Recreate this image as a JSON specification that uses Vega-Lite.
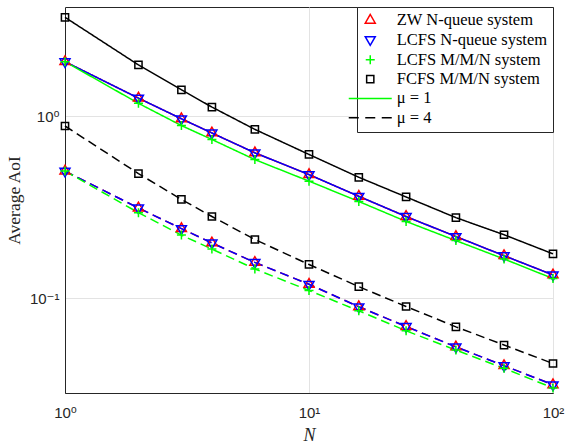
{
  "$schema": "https://vega.github.io/schema/vega-lite/v6.json",
  "width": 488,
  "height": 386,
  "autosize": {"type": "none"},
  "padding": {"left": 65, "top": 7, "right": 13, "bottom": 51},
  "background": "white",
  "config": {
    "font": "Liberation Serif",
    "view": {"stroke": "#262626", "strokeWidth": 1},
    "axis": {
      "labelFont": "Liberation Sans, DejaVu Sans",
      "labelFontSize": 15,
      "labelColor": "#262626",
      "titleFont": "Liberation Serif",
      "titleFontWeight": "normal",
      "titleColor": "#262626",
      "domainColor": "#262626",
      "gridColor": "#e3e3e3",
      "gridWidth": 1,
      "ticks": false,
      "tickSize": 0
    },
    "legend": {
      "orient": "top-right",
      "offset": 0,
      "padding": 5,
      "strokeColor": "#262626",
      "fillColor": "white",
      "labelFont": "Liberation Serif",
      "labelFontSize": 16.5,
      "labelColor": "black",
      "symbolSize": 100,
      "symbolStrokeWidth": 1.5,
      "symbolOffset": 0,
      "labelOffset": 18.25,
      "rowPadding": 2.3,
      "labelLimit": 300
    }
  },
  "data": {
    "values": [
      {"system": "ZW N-queue system", "mu": "μ = 1", "N": 1, "aoi": 2.0},
      {"system": "ZW N-queue system", "mu": "μ = 1", "N": 2, "aoi": 1.26},
      {"system": "ZW N-queue system", "mu": "μ = 1", "N": 3, "aoi": 0.97},
      {"system": "ZW N-queue system", "mu": "μ = 1", "N": 4, "aoi": 0.81},
      {"system": "ZW N-queue system", "mu": "μ = 1", "N": 6, "aoi": 0.63},
      {"system": "ZW N-queue system", "mu": "μ = 1", "N": 10, "aoi": 0.478},
      {"system": "ZW N-queue system", "mu": "μ = 1", "N": 16, "aoi": 0.363},
      {"system": "ZW N-queue system", "mu": "μ = 1", "N": 25, "aoi": 0.281},
      {"system": "ZW N-queue system", "mu": "μ = 1", "N": 40, "aoi": 0.218},
      {"system": "ZW N-queue system", "mu": "μ = 1", "N": 63, "aoi": 0.171},
      {"system": "ZW N-queue system", "mu": "μ = 1", "N": 100, "aoi": 0.134},
      {"system": "ZW N-queue system", "mu": "μ = 4", "N": 1, "aoi": 0.5},
      {"system": "ZW N-queue system", "mu": "μ = 4", "N": 2, "aoi": 0.313},
      {"system": "ZW N-queue system", "mu": "μ = 4", "N": 3, "aoi": 0.241},
      {"system": "ZW N-queue system", "mu": "μ = 4", "N": 4, "aoi": 0.201},
      {"system": "ZW N-queue system", "mu": "μ = 4", "N": 6, "aoi": 0.157},
      {"system": "ZW N-queue system", "mu": "μ = 4", "N": 10, "aoi": 0.119},
      {"system": "ZW N-queue system", "mu": "μ = 4", "N": 16, "aoi": 0.0895},
      {"system": "ZW N-queue system", "mu": "μ = 4", "N": 25, "aoi": 0.0697},
      {"system": "ZW N-queue system", "mu": "μ = 4", "N": 40, "aoi": 0.0538},
      {"system": "ZW N-queue system", "mu": "μ = 4", "N": 63, "aoi": 0.0424},
      {"system": "ZW N-queue system", "mu": "μ = 4", "N": 100, "aoi": 0.0333},
      {"system": "LCFS N-queue system", "mu": "μ = 1", "N": 1, "aoi": 2.0},
      {"system": "LCFS N-queue system", "mu": "μ = 1", "N": 2, "aoi": 1.26},
      {"system": "LCFS N-queue system", "mu": "μ = 1", "N": 3, "aoi": 0.97},
      {"system": "LCFS N-queue system", "mu": "μ = 1", "N": 4, "aoi": 0.81},
      {"system": "LCFS N-queue system", "mu": "μ = 1", "N": 6, "aoi": 0.63},
      {"system": "LCFS N-queue system", "mu": "μ = 1", "N": 10, "aoi": 0.478},
      {"system": "LCFS N-queue system", "mu": "μ = 1", "N": 16, "aoi": 0.363},
      {"system": "LCFS N-queue system", "mu": "μ = 1", "N": 25, "aoi": 0.281},
      {"system": "LCFS N-queue system", "mu": "μ = 1", "N": 40, "aoi": 0.218},
      {"system": "LCFS N-queue system", "mu": "μ = 1", "N": 63, "aoi": 0.171},
      {"system": "LCFS N-queue system", "mu": "μ = 1", "N": 100, "aoi": 0.134},
      {"system": "LCFS N-queue system", "mu": "μ = 4", "N": 1, "aoi": 0.5},
      {"system": "LCFS N-queue system", "mu": "μ = 4", "N": 2, "aoi": 0.313},
      {"system": "LCFS N-queue system", "mu": "μ = 4", "N": 3, "aoi": 0.241},
      {"system": "LCFS N-queue system", "mu": "μ = 4", "N": 4, "aoi": 0.201},
      {"system": "LCFS N-queue system", "mu": "μ = 4", "N": 6, "aoi": 0.157},
      {"system": "LCFS N-queue system", "mu": "μ = 4", "N": 10, "aoi": 0.119},
      {"system": "LCFS N-queue system", "mu": "μ = 4", "N": 16, "aoi": 0.0895},
      {"system": "LCFS N-queue system", "mu": "μ = 4", "N": 25, "aoi": 0.0697},
      {"system": "LCFS N-queue system", "mu": "μ = 4", "N": 40, "aoi": 0.0538},
      {"system": "LCFS N-queue system", "mu": "μ = 4", "N": 63, "aoi": 0.0424},
      {"system": "LCFS N-queue system", "mu": "μ = 4", "N": 100, "aoi": 0.0333},
      {"system": "LCFS M/M/N system", "mu": "μ = 1", "N": 1, "aoi": 2.0},
      {"system": "LCFS M/M/N system", "mu": "μ = 1", "N": 2, "aoi": 1.18},
      {"system": "LCFS M/M/N system", "mu": "μ = 1", "N": 3, "aoi": 0.89},
      {"system": "LCFS M/M/N system", "mu": "μ = 1", "N": 4, "aoi": 0.746},
      {"system": "LCFS M/M/N system", "mu": "μ = 1", "N": 6, "aoi": 0.578},
      {"system": "LCFS M/M/N system", "mu": "μ = 1", "N": 10, "aoi": 0.44},
      {"system": "LCFS M/M/N system", "mu": "μ = 1", "N": 16, "aoi": 0.34},
      {"system": "LCFS M/M/N system", "mu": "μ = 1", "N": 25, "aoi": 0.264},
      {"system": "LCFS M/M/N system", "mu": "μ = 1", "N": 40, "aoi": 0.207},
      {"system": "LCFS M/M/N system", "mu": "μ = 1", "N": 63, "aoi": 0.164},
      {"system": "LCFS M/M/N system", "mu": "μ = 1", "N": 100, "aoi": 0.128},
      {"system": "LCFS M/M/N system", "mu": "μ = 4", "N": 1, "aoi": 0.5},
      {"system": "LCFS M/M/N system", "mu": "μ = 4", "N": 2, "aoi": 0.295},
      {"system": "LCFS M/M/N system", "mu": "μ = 4", "N": 3, "aoi": 0.222},
      {"system": "LCFS M/M/N system", "mu": "μ = 4", "N": 4, "aoi": 0.186},
      {"system": "LCFS M/M/N system", "mu": "μ = 4", "N": 6, "aoi": 0.1445},
      {"system": "LCFS M/M/N system", "mu": "μ = 4", "N": 10, "aoi": 0.11},
      {"system": "LCFS M/M/N system", "mu": "μ = 4", "N": 16, "aoi": 0.085},
      {"system": "LCFS M/M/N system", "mu": "μ = 4", "N": 25, "aoi": 0.066},
      {"system": "LCFS M/M/N system", "mu": "μ = 4", "N": 40, "aoi": 0.0517},
      {"system": "LCFS M/M/N system", "mu": "μ = 4", "N": 63, "aoi": 0.041},
      {"system": "LCFS M/M/N system", "mu": "μ = 4", "N": 100, "aoi": 0.032},
      {"system": "FCFS M/M/N system", "mu": "μ = 1", "N": 1, "aoi": 3.51},
      {"system": "FCFS M/M/N system", "mu": "μ = 1", "N": 2, "aoi": 1.92},
      {"system": "FCFS M/M/N system", "mu": "μ = 1", "N": 3, "aoi": 1.4},
      {"system": "FCFS M/M/N system", "mu": "μ = 1", "N": 4, "aoi": 1.125},
      {"system": "FCFS M/M/N system", "mu": "μ = 1", "N": 6, "aoi": 0.848},
      {"system": "FCFS M/M/N system", "mu": "μ = 1", "N": 10, "aoi": 0.617},
      {"system": "FCFS M/M/N system", "mu": "μ = 1", "N": 16, "aoi": 0.462},
      {"system": "FCFS M/M/N system", "mu": "μ = 1", "N": 25, "aoi": 0.36},
      {"system": "FCFS M/M/N system", "mu": "μ = 1", "N": 40, "aoi": 0.277},
      {"system": "FCFS M/M/N system", "mu": "μ = 1", "N": 63, "aoi": 0.223},
      {"system": "FCFS M/M/N system", "mu": "μ = 1", "N": 100, "aoi": 0.175},
      {"system": "FCFS M/M/N system", "mu": "μ = 4", "N": 1, "aoi": 0.885},
      {"system": "FCFS M/M/N system", "mu": "μ = 4", "N": 2, "aoi": 0.484},
      {"system": "FCFS M/M/N system", "mu": "μ = 4", "N": 3, "aoi": 0.349},
      {"system": "FCFS M/M/N system", "mu": "μ = 4", "N": 4, "aoi": 0.281},
      {"system": "FCFS M/M/N system", "mu": "μ = 4", "N": 6, "aoi": 0.21},
      {"system": "FCFS M/M/N system", "mu": "μ = 4", "N": 10, "aoi": 0.153},
      {"system": "FCFS M/M/N system", "mu": "μ = 4", "N": 16, "aoi": 0.1155},
      {"system": "FCFS M/M/N system", "mu": "μ = 4", "N": 25, "aoi": 0.0898},
      {"system": "FCFS M/M/N system", "mu": "μ = 4", "N": 40, "aoi": 0.0694},
      {"system": "FCFS M/M/N system", "mu": "μ = 4", "N": 63, "aoi": 0.0551},
      {"system": "FCFS M/M/N system", "mu": "μ = 4", "N": 100, "aoi": 0.0436}
    ]
  },
  "encoding": {
    "x": {
      "field": "N",
      "type": "quantitative",
      "scale": {"type": "log", "domain": [1, 100], "nice": false},
      "axis": {
        "title": "N",
        "titleFontStyle": "italic",
        "titleFontSize": 18,
        "titlePadding": 6,
        "values": [1, 10, 100],
        "labelExpr": "datum.value < 5 ? '10⁰' : datum.value < 50 ? '10¹' : '10²'",
        "labelPadding": 12,
        "labelFlush": false,
        "grid": true
      }
    },
    "y": {
      "field": "aoi",
      "type": "quantitative",
      "scale": {"type": "log", "domain": [0.03, 4], "nice": false, "zero": false},
      "axis": {
        "title": "Average AoI",
        "titleFontSize": 17.5,
        "titlePadding": 6,
        "values": [0.1, 1],
        "labelExpr": "datum.value < 0.5 ? '10⁻¹' : '10⁰'",
        "labelPadding": 6,
        "grid": true
      }
    }
  },
  "layer": [
    {
      "mark": {"type": "line", "strokeWidth": 1.5},
      "encoding": {
        "color": {
          "field": "system",
          "type": "nominal",
          "title": null,
          "scale": {
            "domain": ["ZW N-queue system", "LCFS N-queue system", "LCFS M/M/N system", "FCFS M/M/N system", "μ = 1", "μ = 4"],
            "range": ["#ff0000", "#0000ff", "#00ff00", "#000000", "#00ff00", "#000000"]
          }
        },
        "strokeDash": {
          "field": "mu",
          "type": "nominal",
          "scale": {"domain": ["μ = 1", "μ = 4"], "range": [[1, 0], [9, 5]]},
          "legend": null
        }
      }
    },
    {
      "mark": {"type": "point", "filled": false, "size": 100, "strokeWidth": 1.5, "opacity": 1},
      "encoding": {
        "color": {
          "field": "system",
          "type": "nominal",
          "title": null,
          "scale": {
            "domain": ["ZW N-queue system", "LCFS N-queue system", "LCFS M/M/N system", "FCFS M/M/N system", "μ = 1", "μ = 4"],
            "range": ["#ff0000", "#0000ff", "#00ff00", "#000000", "#00ff00", "#000000"]
          },
          "legend": {
            "labelFont": "Liberation Serif",
            "labelFontSize": 16.5,
            "labelColor": "black",
            "encode": {"labels": {"update": {"font": {"value": "Liberation Serif"}}}}
          }
        },
        "shape": {
          "field": "system",
          "type": "nominal",
          "title": null,
          "scale": {
            "domain": ["ZW N-queue system", "LCFS N-queue system", "LCFS M/M/N system", "FCFS M/M/N system", "μ = 1", "μ = 4"],
            "range": [
              "M-4.3,0M4.3,0M0,-1.155L-1,0.577L1,0.577Z",
              "M-4.3,0M4.3,0M0,1.155L-1,-0.577L1,-0.577Z",
              "M-4.3,0M4.3,0M-0.9,0L0.9,0M0,-0.9L0,0.9",
              "M-4.3,0M4.3,0M-0.72,-0.72L0.72,-0.72L0.72,0.72L-0.72,0.72Z",
              "M-4.3,0L4.3,0",
              "M-4.3,0L-2.3,0M-1,0L1,0M2.3,0L4.3,0"
            ]
          },
          "legend": {
            "labelFont": "Liberation Serif",
            "labelFontSize": 16.5,
            "labelColor": "black",
            "encode": {"labels": {"update": {"font": {"value": "Liberation Serif"}}}}
          }
        }
      }
    }
  ]
}
